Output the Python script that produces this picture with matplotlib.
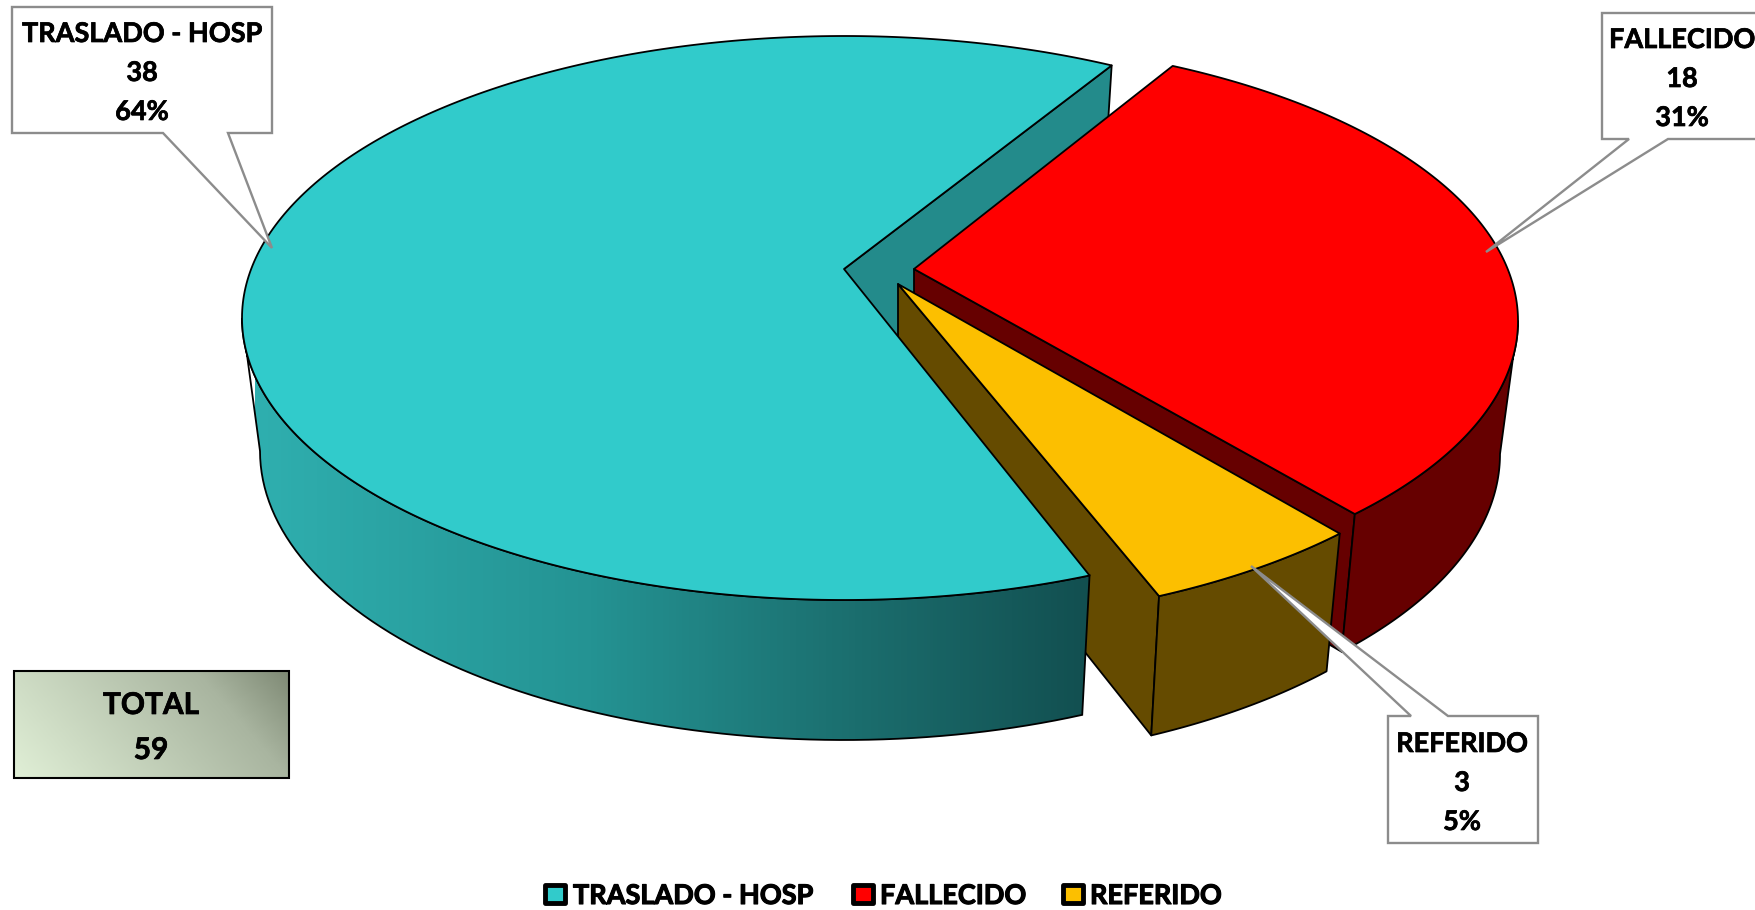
import numpy as np
import matplotlib
matplotlib.use("Agg")
import matplotlib.pyplot as plt
import matplotlib.patheffects as pe
from matplotlib.patches import Polygon, Rectangle
from matplotlib.colors import LinearSegmentedColormap

plt.rcParams["font.family"] = ["Lato", "DejaVu Sans"]

# data
names = ["TRASLADO - HOSP", "FALLECIDO", "REFERIDO"]
counts = [38, 18, 3]
pct_labels = ["64%", "31%", "5%"]
total_label = "TOTAL"
total_value = 59

# colours
top_cols = ["#31CBCB", "#FF0000", "#FCBF00"]
wall_cols = ["#238B8B", "#660000", "#654B00"]
edge = "#000000"
call_grey = "#8C8C8C"

# pie geometry, in pixels of the picture (perspective look of the 3D pie)
RX, RY = 602, 282
RX_B, RY_B = 584, 289
DEPTH = 133
centres = [(844, 318), (916, 321), (898, 342)]
apexes = [(844, 269), (914, 269), (898, 284)]
start_deg = [63.6, -43.2, 295.7]
view_scale = [0.994, 0.983, 1.175]   # perspective stretches the front slices

fig = plt.figure(figsize=(17.55, 9.10), dpi=100)
ax = fig.add_axes([0, 0, 1, 1])
ax.axis("off")


def top_rim(i, t):
    t = np.radians(t)
    cx, cy = centres[i]
    return np.column_stack([cx + RX*np.cos(t), cy - RY*np.sin(t)])


def bottom_rim(i, t):
    t = np.radians(t)
    cx, cy = centres[i]
    return np.column_stack([cx + RX_B*np.cos(t), cy + DEPTH - RY_B*np.sin(t)])


def poly(pts, col, z, lw=1.3):
    p = Polygon(pts, closed=True, facecolor=col, edgecolor=edge, linewidth=lw, joinstyle="round", zorder=z)
    ax.add_patch(p)
    return p


def bold_text(x, y, s, size, stroke, z, ha="center"):
    t = ax.text(x, y, s, ha=ha, va="center", fontsize=size, fontweight="bold", color="black", zorder=z)
    t.set_path_effects([pe.withStroke(linewidth=stroke, foreground="black")])
    return t


total = sum(counts)
spans = []
for i in range(3):
    sweep = counts[i] / total * 360 * view_scale[i]
    spans.append((start_deg[i], start_deg[i] + sweep))


def inner_wall(i, t, z):
    ap = np.array(apexes[i], dtype=float)
    a = top_rim(i, [t])[0]
    b = bottom_rim(i, [t])[0]
    poly([ap, a, b, ap + [0, DEPTH]], wall_cols[i], z)


def outer_pts(i, t0, t1):
    ts = np.linspace(t0, t1, 80)
    return np.vstack([top_rim(i, ts), bottom_rim(i, ts[::-1])])


def top_pts(i):
    ts = np.linspace(spans[i][0], spans[i][1], 300)
    return np.vstack([[apexes[i]], top_rim(i, ts)])


# cyan inner wall goes behind everything
inner_wall(0, spans[0][0], 1)

# red slice
inner_wall(1, spans[1][0], 2)
poly(outer_pts(1, spans[1][0], 0), wall_cols[1], 3)
poly(top_pts(1), top_cols[1], 4)

# yellow slice
inner_wall(2, spans[2][0], 5)
poly(outer_pts(2, spans[2][0], spans[2][1]), wall_cols[2], 6)
poly(top_pts(2), top_cols[2], 7)

# cyan slice, outer wall has a gradient
pts = outer_pts(0, 180, spans[0][1])
shell = Polygon(pts, closed=True, facecolor="none", edgecolor=edge, linewidth=1.3, zorder=9)
ax.add_patch(shell)
wall_cmap = LinearSegmentedColormap.from_list(
    "wall", [(0, "#2FAFAF"), (0.4, "#249393"), (0.72, "#1B6E6E"), (1, "#124F50")])
im = ax.imshow(np.linspace(0, 1, 256).reshape(1, -1), cmap=wall_cmap, aspect="auto",
               extent=[255, 1090, 850, 300], zorder=8)
im.set_clip_path(shell)
poly(top_pts(0), top_cols[0], 10)


# callouts
def callout(pts, lines, cx, cy, z=12):
    ax.add_patch(Polygon(pts, closed=True, facecolor="white", edgecolor=call_grey, linewidth=1.7,
                         joinstyle="miter", zorder=z))
    for k, s in enumerate(lines):
        bold_text(cx, cy + k*39, s, 19.5, 0.5, z+1)


callout([(12, 7), (272, 7), (272, 133), (228, 133), (272, 248), (163, 133), (12, 133)],
        [names[0], str(counts[0]), pct_labels[0]], 142, 34)
callout([(1602, 13), (1765, 13), (1765, 139), (1668, 139), (1486, 252), (1629, 139), (1602, 139)],
        [names[1], str(counts[1]), pct_labels[1]], 1682, 40)
callout([(1388, 716), (1411, 716), (1251, 566), (1448, 716), (1538, 716), (1538, 843), (1388, 843)],
        [names[2], str(counts[2]), pct_labels[2]], 1462, 744)

# total box, light at the bottom left and dark at the top right
box_cmap = LinearSegmentedColormap.from_list(
    "box", [(0, "#E0EFD6"), (0.75, "#A9B5A0"), (1, "#7F8A75")])
xx, yy = np.meshgrid(np.linspace(0, 1, 200), np.linspace(0, 1, 60))
box_im = ax.imshow(0.75*xx + 0.25*(1 - yy), cmap=box_cmap, aspect="auto", extent=[14, 289, 778, 671], zorder=11)
ax.add_patch(Rectangle((14, 671), 275, 107, facecolor="none", edgecolor="black", linewidth=1.5, zorder=12))
bold_text(151, 705, total_label, 21.5, 0.5, 13)
bold_text(151, 750, str(total_value), 21.5, 0.5, 13)

# legend
leg_box_x = [545, 853, 1063]
leg_text_x = [573, 880, 1090]
for i in range(3):
    ax.add_patch(Rectangle((leg_box_x[i], 885), 20, 18, facecolor=top_cols[i], edgecolor="black",
                           linewidth=3.5, joinstyle="round", zorder=5))
    bold_text(leg_text_x[i], 896, names[i], 19.5, 0.8, 5, ha="left")

ax.set_xlim(0, 1755)
ax.set_ylim(910, 0)
fig.savefig("out.png", dpi=100, facecolor="white")
